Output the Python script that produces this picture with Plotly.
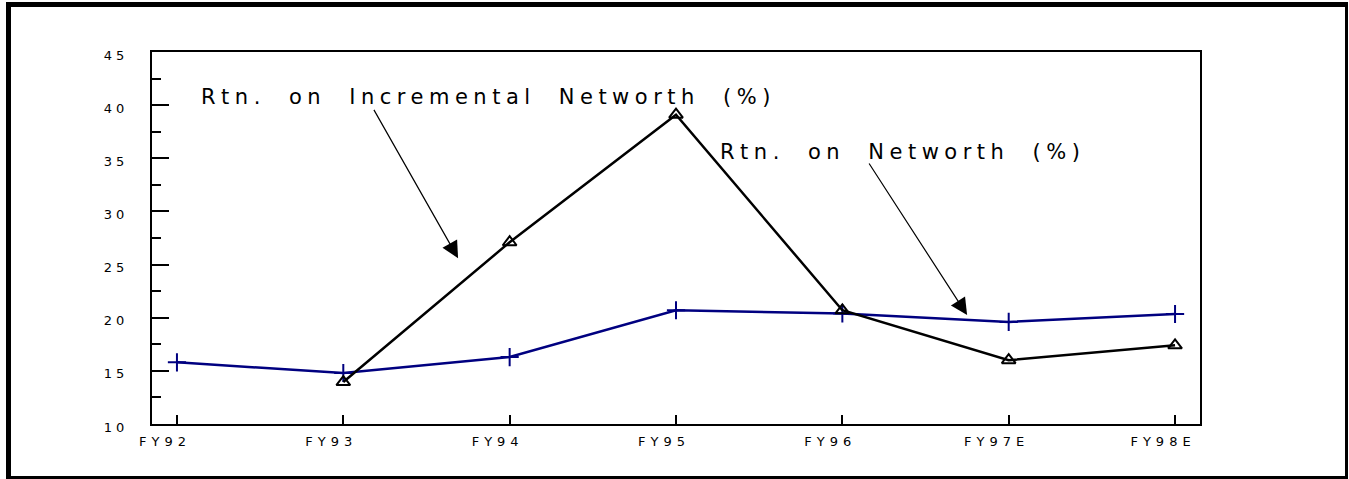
import plotly.graph_objects as go

categories = ['FY92', 'FY93', 'FY94', 'FY95', 'FY96', 'FY97E', 'FY98E']
networth = [15.8, 14.8, 16.3, 20.7, 20.4, 19.6, 20.35]
incremental = [None, 13.95, 27.1, 39.1, 20.7, 16.0, 17.4]
y_ticks = [10, 15, 20, 25, 30, 35, 40, 45]
label_incr = 'Rtn. on Incremental Networth (%)'
label_net = 'Rtn. on Networth (%)'


def spaced(s, px, wpx=0):
    return f"<span style='letter-spacing:{px}px;word-spacing:{wpx}px'>{s}</span>"


FONT = 'DejaVu Sans, sans-serif'

fig = go.Figure()
fig.add_trace(go.Scatter(
    x=categories, y=networth, mode='lines+markers',
    line=dict(color='#000080', width=2.5),
    marker=dict(symbol='cross-thin-open', size=13, line=dict(color='#000080', width=2)),
    showlegend=False, cliponaxis=False))
fig.add_trace(go.Scatter(
    x=categories, y=incremental, mode='lines+markers',
    line=dict(color='black', width=2.5),
    marker=dict(symbol='triangle-up-open', size=12, color='black', line=dict(color='black', width=2)),
    showlegend=False, cliponaxis=False))

fig.update_layout(
    width=1349, height=479,
    margin=dict(l=152, r=149, t=52, b=55),
    paper_bgcolor='white', plot_bgcolor='white',
    font=dict(family=FONT, color='black', size=12),
    xaxis=dict(
        type='category', range=[-0.15, 6.15],
        tickvals=categories, ticktext=[spaced(c, 5) for c in categories],
        ticks='inside', ticklen=9, tickwidth=2, tickcolor='black',
        showline=True, linecolor='black', linewidth=2, mirror=True,
        showgrid=False, zeroline=False, ticklabelshift=-12, ticklabelstandoff=4,
        tickfont=dict(size=13, family=FONT, color='black')),
    yaxis=dict(
        range=[10, 45], tickvals=y_ticks, ticktext=[spaced(str(v), 4) for v in y_ticks],
        ticks='inside', ticklen=17, tickwidth=2, tickcolor='black',
        minor=dict(dtick=2.5, tick0=10, ticks='inside', ticklen=9, tickwidth=1.5, tickcolor='black'),
        showline=True, linecolor='black', linewidth=2, mirror=True,
        showgrid=False, zeroline=False, ticklabelstandoff=19, ticklabelshift=3,
        tickfont=dict(size=13, family=FONT, color='black')),
)

# texts
fig.add_annotation(x=1.875, y=40.8, xref='x', yref='y', text=spaced(label_incr, 5.5, 11), showarrow=False,
                   font=dict(size=21, family=FONT, color='black'))
fig.add_annotation(x=4.36, y=35.6, xref='x', yref='y', text=spaced(label_net, 5.5, 11), showarrow=False,
                   font=dict(size=21, family=FONT, color='black'))
# arrows
fig.add_annotation(x=1.69, y=25.6, ax=1.179, ay=39.7, xref='x', yref='y', axref='x', ayref='y',
                   text='', showarrow=True, arrowhead=2, arrowsize=2.8, arrowwidth=1.2, arrowcolor='black')
fig.add_annotation(x=4.75, y=20.25, ax=4.155, ay=34.65, xref='x', yref='y', axref='x', ayref='y',
                   text='', showarrow=True, arrowhead=2, arrowsize=2.8, arrowwidth=1.2, arrowcolor='black')

# outer frame
W, H = 1048.0, 372.0
def px_x(p):
    return (p - 152) / W
def px_y(p):
    return (424 - p) / H

fig.add_shape(type='line', xref='paper', yref='paper', x0=px_x(6), x1=px_x(1348), y0=px_y(4.5), y1=px_y(4.5),
              line=dict(color='black', width=5))
fig.add_shape(type='line', xref='paper', yref='paper', x0=px_x(8.5), x1=px_x(8.5), y0=px_y(2), y1=px_y(479),
              line=dict(color='black', width=5))
fig.add_shape(type='line', xref='paper', yref='paper', x0=px_x(1346.5), x1=px_x(1346.5), y0=px_y(2), y1=px_y(479),
              line=dict(color='black', width=3))
fig.add_shape(type='line', xref='paper', yref='paper', x0=px_x(6), x1=px_x(1348), y0=px_y(477.5), y1=px_y(477.5),
              line=dict(color='black', width=3))

fig.write_html('out.html')
